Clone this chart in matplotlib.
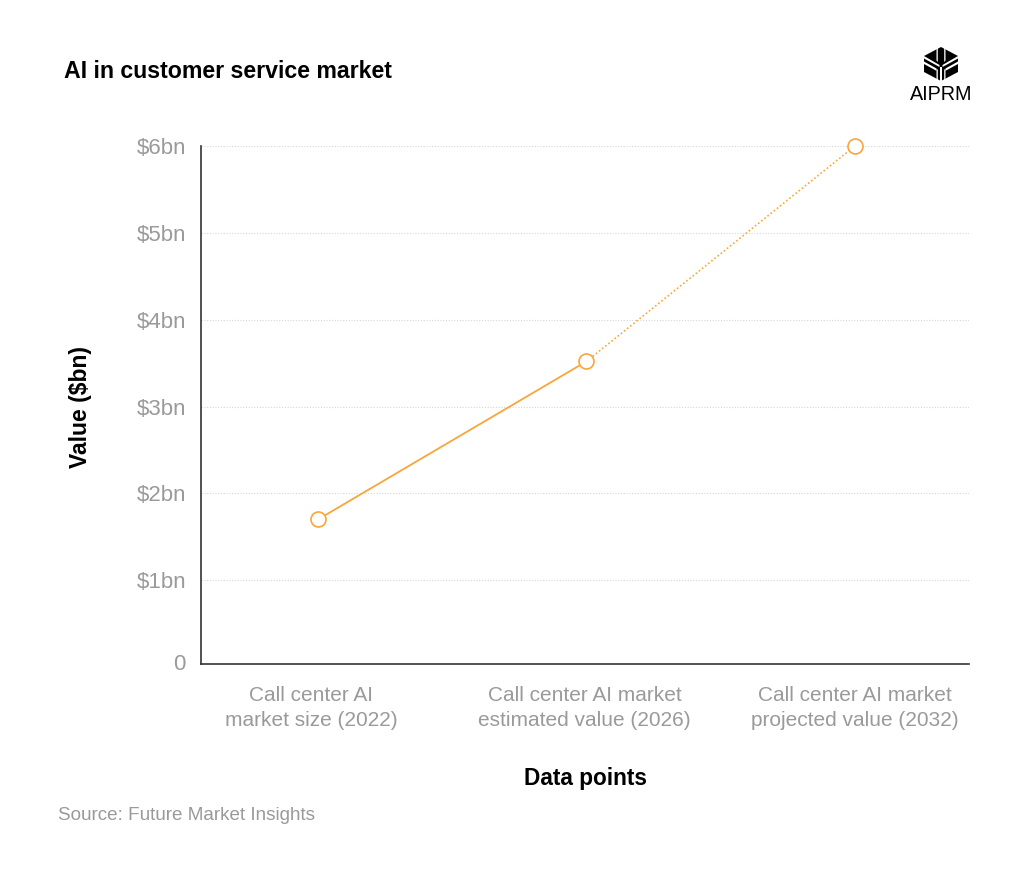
import matplotlib
matplotlib.use('Agg')
import matplotlib.pyplot as plt
from matplotlib.patches import Polygon
from matplotlib.transforms import ScaledTranslation

W, H = 1024, 880

categories = ['Call center AI\nmarket size (2022)',
              'Call center AI market\nestimated value (2026)',
              'Call center AI market\nprojected value (2032)']
values = [1.7, 3.52, 6.0]
y_ticks = [1, 2, 3, 4, 5, 6]
y_tick_labels = ['$1bn', '$2bn', '$3bn', '$4bn', '$5bn', '$6bn']

ORANGE = '#f9a63a'
GREY = '#9a9a9a'

plt.rcParams['font.family'] = ['Liberation Sans', 'DejaVu Sans']

fig = plt.figure(figsize=(W / 100, H / 100), dpi=100, facecolor='white')
ax = fig.add_axes([201 / W, 1 - 664 / H, (969 - 201) / W, (664 - 146) / H])

positions = list(range(len(categories)))
ax.set_xlim(-0.436, 2.425)
ax.set_ylim(0.035, 6)

# solid to the estimate, dotted to the projection
ax.plot(positions[:2], values[:2], color=ORANGE, lw=1.3, zorder=3)
ax.plot(positions[1:], values[1:], color=ORANGE, lw=1.2, ls=(0, (1, 1.4)), zorder=3)
ax.plot(positions, values, 'o', ms=10.8, mfc='white', mec=ORANGE, mew=1.2, zorder=4, clip_on=False)

for s in ['top', 'right']:
    ax.spines[s].set_visible(False)
for s in ['left', 'bottom']:
    ax.spines[s].set_color('#333333')
    ax.spines[s].set_linewidth(1.2)

ax.set_yticks(y_ticks)
ax.set_yticklabels(y_tick_labels, fontsize=16, color=GREY)
ax.tick_params(axis='y', length=0, pad=10.5)
ax.grid(axis='y', color='#d6d6d6', lw=0.8, ls=(0, (1, 1.5)))
ax.set_axisbelow(True)

ax.set_xticks(positions)
ax.set_xticklabels(categories, fontsize=15, color=GREY, linespacing=1.45)
ax.tick_params(axis='x', length=0, pad=15.5)

# the first two labels sit slightly left of their points
for label, shift in zip(ax.get_xticklabels(), [-7, -2, 0]):
    label.set_transform(label.get_transform() + ScaledTranslation(shift / 100, 0, fig.dpi_scale_trans))

fig.text(186 / W, 1 - 664 / H, '0', ha='right', va='center', fontsize=16, color=GREY)
fig.text(81 / W, 1 - 407 / H, 'Value ($bn)', rotation=90, ha='center', va='center',
         fontsize=16.5, fontweight='bold', color='black')
fig.text(585 / W, 1 - 778 / H, 'Data points', ha='center', va='center',
         fontsize=16.3, fontweight='bold', color='black')
fig.text(64 / W, 1 - 71 / H, 'AI in customer service market', ha='left', va='center',
         fontsize=16.7, fontweight='bold', color='black')
fig.text(58 / W, 1 - 815 / H, 'Source: Future Market Insights', ha='left', va='center',
         fontsize=13.6, color=GREY)
fig.text(941.5 / W, 1 - 95 / H, 'AIPRM', ha='center', va='center', fontsize=14.2, color='black')

# logo: dark hexagon cut by white strokes
def logo_poly(points, color):
    pts = [(x / W, 1 - y / H) for x, y in points]
    fig.add_artist(Polygon(pts, closed=True, transform=fig.transFigure, facecolor=color, edgecolor='none'))

logo_poly([(941, 47), (958, 56), (958, 72), (941, 81), (924, 72), (924, 56)], 'black')
for points in [
    # slits at the top
    [(936.5, 47), (937.8, 47), (937.8, 62), (936.5, 60.5)],
    [(944.2, 47), (945.5, 47), (945.5, 60.5), (944.2, 62)],
    # arms of the Y, two strokes each
    [(924, 56), (939.5, 65), (939.5, 67), (924, 58.5)],
    [(958, 56), (942.5, 65), (942.5, 67), (958, 58.5)],
    [(924, 61.5), (936.5, 68.5), (936.5, 70.8), (924, 64)],
    [(958, 61.5), (945.5, 68.5), (945.5, 70.8), (958, 64)],
    # stem of the Y
    [(936.5, 69), (937.8, 69.5), (937.8, 81), (936.5, 81)],
    [(944.2, 69.5), (945.5, 69), (945.5, 81), (944.2, 81)],
    [(940.3, 67), (941.7, 67), (941.7, 81), (940.3, 81)],
]:
    logo_poly(points, 'white')

fig.savefig('out.png', dpi=100, facecolor='white')
